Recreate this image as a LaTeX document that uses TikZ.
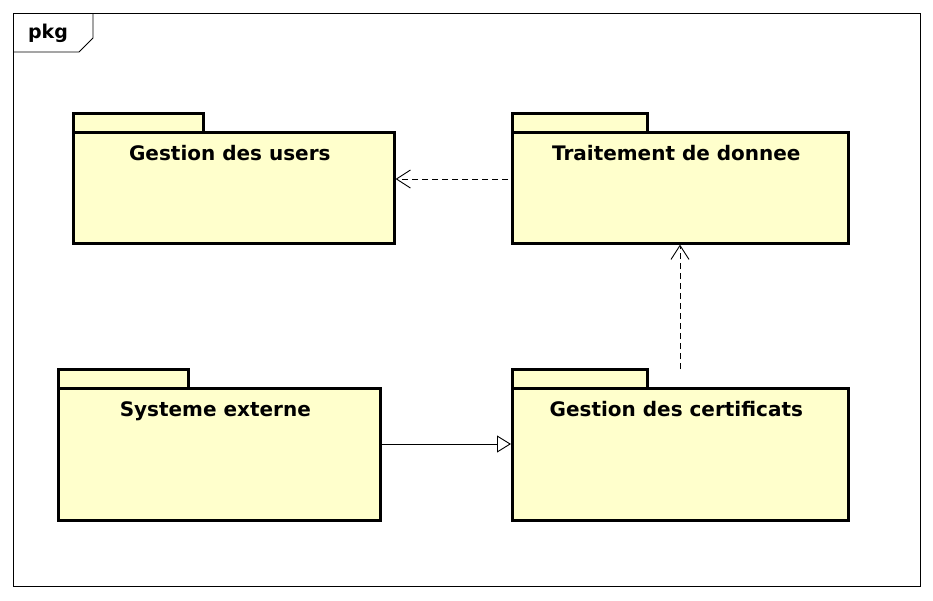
\documentclass[tikz,border=0pt]{standalone}
\usepackage{fontspec}
\setmainfont{DejaVu Sans}
\usetikzlibrary{arrows.meta}
\definecolor{pkgyellow}{RGB}{255,255,204}
\tikzstyle{pkgTab}=[draw, fill=pkgyellow, line width=2.6pt, anchor=north west, minimum width=130pt, minimum height=19pt, inner sep=0pt]
\tikzstyle{pkgBody}=[draw, fill=pkgyellow, line width=2.6pt, anchor=north west, inner sep=0pt]
\tikzstyle{pkgText}=[anchor=base, font=\fontsize{20}{22}\selectfont\bfseries]
\tikzstyle{dependency}=[line width=0.9pt, dash pattern=on 6pt off 4pt, -{Straight Barb[length=14pt,width=18pt,line width=0.9pt]}]
\tikzstyle{generalization}=[line width=0.9pt, -{Triangle[open,length=14pt,width=17pt,line width=0.9pt,fill=white]}]

\begin{document}
\begin{tikzpicture}[x=1pt,y=-1pt]
  \useasboundingbox (0,0) rectangle (933,600);
  % Frame
  \node (frame) at (466.5,299.5) [draw, line width=0.8pt, minimum width=907pt, minimum height=573pt, inner sep=0pt] {};
  \draw[line width=0.8pt] (13,52) -- (79,52) -- (93,38) -- (93,13);
  \node (frametext) at (48,33) [font=\fontsize{19}{21}\selectfont\bfseries] {pkg};

  % Nodes
  \node (userstab) at (72,112) [pkgTab] {};
  \node (users) at (72,131) [pkgBody, minimum width=321pt, minimum height=111pt] {};
  \node (userstext) at ([xshift=-4pt,yshift=-29pt]users.north) [pkgText] {Gestion des users};

  \node (traitementtab) at (511,112) [pkgTab, minimum width=135pt] {};
  \node (traitement) at (511,131) [pkgBody, minimum width=336pt, minimum height=111pt] {};
  \node (traitementtext) at ([xshift=-4pt,yshift=-29pt]traitement.north) [pkgText] {Traitement de donnee};

  \node (externetab) at (57,368) [pkgTab] {};
  \node (externe) at (57,387) [pkgBody, minimum width=322pt, minimum height=132pt] {};
  \node (externetext) at ([xshift=-4pt,yshift=-29pt]externe.north) [pkgText] {Systeme externe};

  \node (certificatstab) at (511,368) [pkgTab, minimum width=135pt] {};
  \node (certificats) at (511,387) [pkgBody, minimum width=336pt, minimum height=132pt] {};
  \node (certificatstext) at ([xshift=-4pt,yshift=-29pt]certificats.north) [pkgText] {Gestion des certificats};

  \coordinate (traitementout) at (508,179);
  \coordinate (certificatsout) at (680,369);

  % Transitions
  \draw[dependency] (traitementout) -- (users.east |- traitementout);
  \draw[dependency] (certificatsout) -- (certificatsout |- traitement.south);
  \draw[generalization] (externe.east |- 0,444) -- (certificats.west |- 0,444);

\end{tikzpicture}
\end{document}
